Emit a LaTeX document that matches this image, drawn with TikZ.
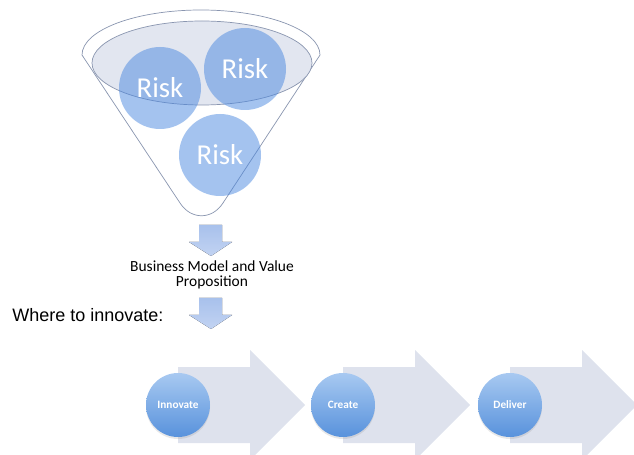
\documentclass[tikz,border=0pt]{standalone}
\usepackage{fontspec}
\setmainfont{Carlito}
\newfontfamily\arialfont{Liberation Sans}
\usepackage{xcolor}
\usepackage{tikz}
\usetikzlibrary{positioning,shadows}

\definecolor{funnelline}{HTML}{8A96B0}
\definecolor{ellipsefill}{HTML}{E2E6F0}
\definecolor{riskblue}{HTML}{4A88E0}
\definecolor{downtop}{HTML}{A8C1EC}
\definecolor{downbottom}{HTML}{C2D3F2}
\definecolor{arrowgrey}{HTML}{DEE2ED}
\definecolor{steptop}{HTML}{A8C9F1}
\definecolor{stepbottom}{HTML}{5892DC}

\tikzset{
  funnel/.style={draw=funnelline, line width=0.5pt},
  riskball/.style={circle, minimum size=20.5mm, inner sep=0pt, fill=riskblue, fill opacity=.5, text opacity=1, text=white, font=\fontsize{20.5}{22}\selectfont},
  stepball/.style={circle, minimum size=16mm, inner sep=0pt, top color=steptop, bottom color=stepbottom, text=white, font=\bfseries\fontsize{8}{9}\selectfont, drop shadow={shadow xshift=0pt, shadow yshift=-0.5mm, opacity=.18}},
  blockarrow/.style={fill=arrowgrey},
  downarrow/.style={top color=downtop, bottom color=downbottom},
}

\begin{document}
\begin{tikzpicture}[x=0.25mm, y=-0.25mm]
\useasboundingbox (0,0) rectangle (634,455);

% funnel
\draw[funnel, fill=white] (82,55) arc[start angle=180, end angle=360, x radius=119, y radius=45]
  -- (223,203) .. controls (212,220) and (191,220) .. (180,203) -- cycle;
\draw[funnel, fill=ellipsefill] (202,63) ellipse[x radius=110, y radius=42];

\node[riskball] (riskleft) at (160,88) {Risk};
\node[riskball] (riskright) at (245,69) {Risk};
\node[riskball] (riskbottom) at (220,155) {Risk};

% down arrows
\foreach \y in {225,298} {
  \fill[downarrow] (199,\y) -- (222,\y) -- (222,{\y+17}) -- (232,{\y+17}) -- (211,{\y+31})
    -- (189,{\y+17}) -- (199,{\y+17}) -- cycle;
}

\node[font=\fontsize{11}{10.7}\selectfont, align=center] (bmvp) at (212,275) {Business Model and Value\\Proposition};
\node[anchor=base west, font=\arialfont\fontsize{12.8}{14}\selectfont, inner sep=0pt] (where) at (12,322) {Where to innovate:};

% value chain
\foreach \x/\lbl/\name in {178/Innovate/innovate, 343/Create/create, 510/Deliver/deliver} {
  \fill[blockarrow] (\x,367) -- ({\x+72},367) -- ({\x+72},350) -- ({\x+127},405)
    -- ({\x+72},460) -- ({\x+72},443) -- (\x,443) -- cycle;
  \node[stepball] (\name) at (\x,405) {\lbl};
}

\end{tikzpicture}
\end{document}
